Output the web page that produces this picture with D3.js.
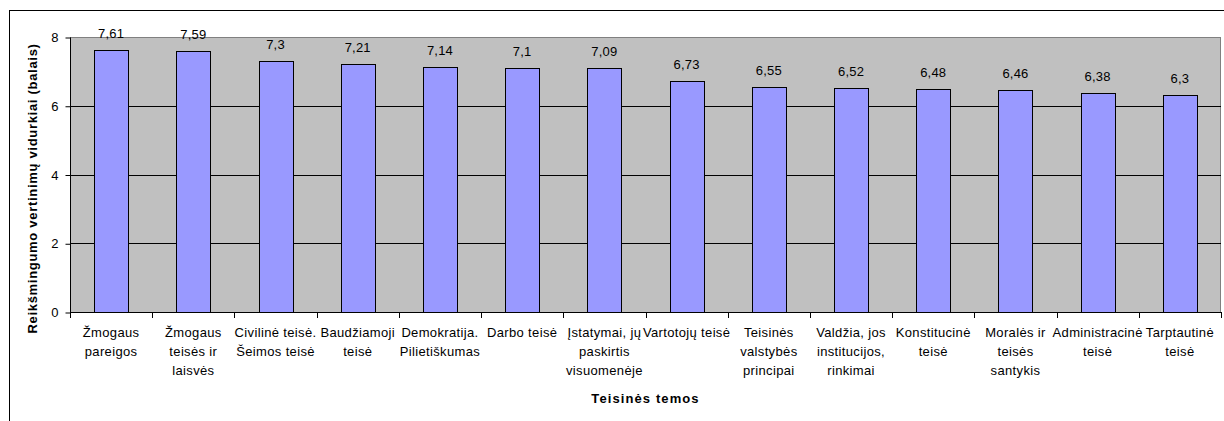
<!DOCTYPE html>
<html>
<head>
<meta charset="utf-8">
<script src="https://cdn.jsdelivr.net/npm/d3@7"></script>
<style>
  body { margin: 0; background: #fff; }
  svg { display: block; font-family: Arial, "Liberation Sans", sans-serif; }
</style>
</head>
<body>
<div id="content"></div>
<script>
// Datos del grafico
const categories = [
    ['Žmogaus', 'pareigos'],
    ['Žmogaus', 'teisės ir', 'laisvės'],
    ['Civilinė teisė.', 'Šeimos teisė'],
    ['Baudžiamoji', 'teisė'],
    ['Demokratija.', 'Pilietiškumas'],
    ['Darbo teisė'],
    ['Įstatymai, jų', 'paskirtis', 'visuomenėje'],
    ['Vartotojų teisė'],
    ['Teisinės', 'valstybės', 'principai'],
    ['Valdžia, jos', 'institucijos,', 'rinkimai'],
    ['Konstitucinė', 'teisė'],
    ['Moralės ir', 'teisės', 'santykis'],
    ['Administracinė', 'teisė'],
    ['Tarptautinė', 'teisė']
];
const values = [7.61, 7.59, 7.3, 7.21, 7.14, 7.1, 7.09, 6.73, 6.55, 6.52, 6.48, 6.46, 6.38, 6.3];
const yTicks = [0, 2, 4, 6, 8];
const yTitle = 'Reikšmingumo vertinimų vidurkiai (balais)';
const xTitle = 'Teisinės temos';

// Dimensiones
const width = 1224;
const height = 421;
const plot = { left: 70, right: 1221, top: 37, bottom: 312 };

const svg = d3.select('#content')
    .append('svg')
    .attr('width', width)
    .attr('height', height);

// Marco del grafico
svg.append('rect')
    .attr('x', 9.5)
    .attr('y', 10.5)
    .attr('width', width + 20)
    .attr('height', height + 20)
    .attr('fill', '#fff')
    .attr('stroke', '#000');

// Escalas
const x = d3.scaleBand()
    .domain(d3.range(values.length))
    .range([plot.left, plot.right])
    .padding(0);

const y = d3.scaleLinear()
    .domain([0, 8])
    .range([plot.bottom, plot.top]);

// Area del grafico
svg.append('rect')
    .attr('x', plot.left + 0.5)
    .attr('y', plot.top + 0.5)
    .attr('width', plot.right - plot.left - 1)
    .attr('height', plot.bottom - plot.top)
    .attr('fill', '#c0c0c0')
    .attr('stroke', '#808080');

// Lineas de cuadricula
svg.append('g')
    .selectAll('line')
    .data(yTicks.filter(d => d > 0 && d < 8))
    .enter()
    .append('line')
    .attr('x1', plot.left)
    .attr('x2', plot.right)
    .attr('y1', d => Math.round(y(d)) + 0.5)
    .attr('y2', d => Math.round(y(d)) + 0.5)
    .attr('stroke', '#000');

// Barras
const barWidth = x.bandwidth() / 2.42;
svg.append('g')
    .selectAll('rect')
    .data(values)
    .enter()
    .append('rect')
    .attr('x', (d, i) => Math.round(x(i) + (x.bandwidth() - barWidth) / 2) + 0.5)
    .attr('y', d => Math.round(y(d)) + 0.5)
    .attr('width', Math.round(barWidth))
    .attr('height', d => Math.round(y(0)) - Math.round(y(d)))
    .attr('fill', '#9999ff')
    .attr('stroke', '#000');

// Etiquetas de valores
svg.append('g')
    .selectAll('text')
    .data(values)
    .enter()
    .append('text')
    .attr('x', (d, i) => x(i) + x.bandwidth() / 2)
    .attr('y', d => y(d) - 12)
    .attr('text-anchor', 'middle')
    .style('font-size', '13px')
    .style('letter-spacing', '0.2px')
    .attr('fill', '#000')
    .text(d => String(d).replace('.', ','));

// Eje Y
const yAxis = d3.axisLeft(y)
    .tickValues(yTicks)
    .tickSize(5)
    .tickPadding(7)
    .tickFormat(d => d);

const gy = svg.append('g')
    .attr('transform', `translate(${plot.left + 0.5}, 0.5)`)
    .call(yAxis);
gy.select('.domain').attr('stroke', '#000').attr('d', `M0,${plot.top}V${plot.bottom}`);
gy.selectAll('.tick line').attr('stroke', '#000');
gy.selectAll('.tick text')
    .style('font-size', '13px')
    .style('font-family', 'Arial, "Liberation Sans", sans-serif')
    .attr('fill', '#000');

// Eje X (marcas entre categorias)
svg.append('line')
    .attr('x1', plot.left)
    .attr('x2', plot.right)
    .attr('y1', Math.round(y(0)) + 0.5)
    .attr('y2', Math.round(y(0)) + 0.5)
    .attr('stroke', '#000');

svg.append('g')
    .selectAll('line')
    .data(d3.range(values.length + 1))
    .enter()
    .append('line')
    .attr('x1', i => Math.round(plot.left + i * x.step()) + 0.5)
    .attr('x2', i => Math.round(plot.left + i * x.step()) + 0.5)
    .attr('y1', Math.round(y(0)))
    .attr('y2', Math.round(y(0)) + 6)
    .attr('stroke', '#000');

// Etiquetas de categorias
const catLabels = svg.append('g')
    .selectAll('text')
    .data(categories)
    .enter()
    .append('text')
    .attr('x', (d, i) => x(i) + x.bandwidth() / 2)
    .attr('y', 337)
    .attr('text-anchor', 'middle')
    .style('font-size', '13px')
    .style('letter-spacing', '0.35px')
    .attr('fill', '#000');

catLabels.selectAll('tspan')
    .data(d => d)
    .enter()
    .append('tspan')
    .attr('x', function() { return d3.select(this.parentNode).attr('x'); })
    .attr('dy', (d, i) => i === 0 ? 0 : 19)
    .text(d => d);

// Titulos de ejes
svg.append('text')
    .attr('transform', `translate(37, 188.5) rotate(-90)`)
    .attr('text-anchor', 'middle')
    .style('font-size', '13px')
    .style('font-weight', 'bold')
    .style('letter-spacing', '0.7px')
    .text(yTitle);

svg.append('text')
    .attr('x', (plot.left + plot.right) / 2)
    .attr('y', 403)
    .attr('text-anchor', 'middle')
    .style('font-size', '13px')
    .style('font-weight', 'bold')
    .style('letter-spacing', '1.1px')
    .text(xTitle);
</script>
</body>
</html>
